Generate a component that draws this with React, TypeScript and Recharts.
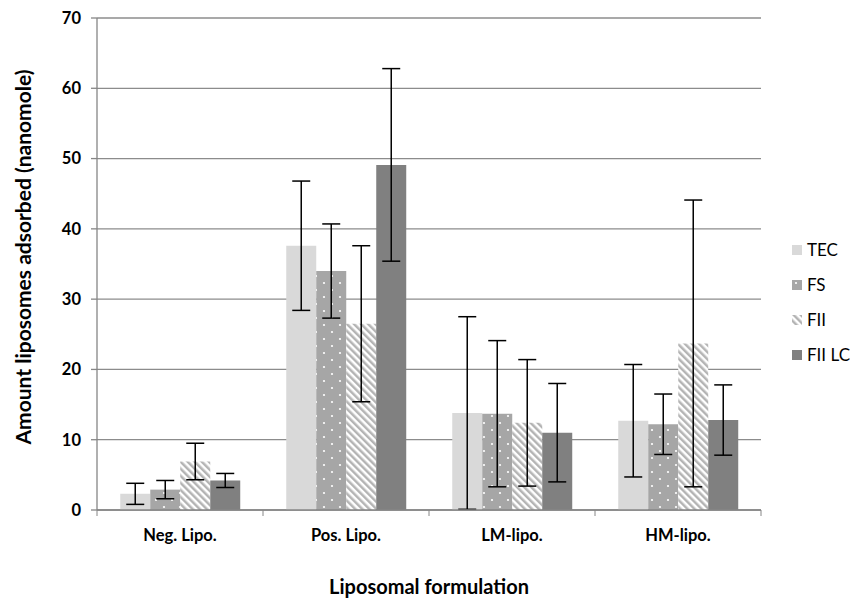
import {
  Bar,
  BarChart,
  CartesianGrid,
  ErrorBar,
  XAxis,
  YAxis,
} from "recharts";

const categories = ["Neg. Lipo.", "Pos. Lipo.", "LM-lipo.", "HM-lipo."];
const tec = [2.3, 37.6, 13.8, 12.7];
const tecErr = [1.5, 9.2, 13.7, 8.0];
const fs = [2.9, 34.0, 13.7, 12.2];
const fsErr = [1.3, 6.7, 10.4, 4.3];
const fii = [6.9, 26.5, 12.4, 23.7];
const fiiErr = [2.6, 11.1, 9.0, 20.4];
const fiiLc = [4.2, 49.1, 11.0, 12.8];
const fiiLcErr = [1.0, 13.7, 7.0, 5.0];
const yTicks = [0, 10, 20, 30, 40, 50, 60, 70];

const data = categories.map((name, i) => ({
  name,
  tec: tec[i],
  tecErr: tecErr[i],
  fs: fs[i],
  fsErr: fsErr[i],
  fii: fii[i],
  fiiErr: fiiErr[i],
  fiiLc: fiiLc[i],
  fiiLcErr: fiiLcErr[i],
}));

const series = [
  { key: "tec", label: "TEC", fill: "#d9d9d9" },
  { key: "fs", label: "FS", fill: "url(#dots)" },
  { key: "fii", label: "FII", fill: "url(#stripes)" },
  { key: "fiiLc", label: "FII LC", fill: "#808080" },
];

const FONT = "Lato, 'DejaVu Sans', sans-serif";
const BAND = 166;

function CategoryTick(props: any) {
  const { x, y, payload, index } = props;
  const left = x - BAND / 2;
  return (
    <g>
      <line x1={left} y1={y - 8} x2={left} y2={y - 2} stroke="#868686" />
      {index === categories.length - 1 && (
        <line x1={left + BAND} y1={y - 8} x2={left + BAND} y2={y - 2} stroke="#868686" />
      )}
      <text
        x={x}
        y={y + 23}
        textAnchor="middle"
        fontFamily={FONT}
        fontWeight="bold"
        fontSize={16.5}
        fill="#000"
      >
        {payload.value}
      </text>
    </g>
  );
}

function YLabel(props: any) {
  const { viewBox } = props;
  const cx = 22;
  const cy = viewBox.y + viewBox.height / 2 - 7;
  return (
    <text
      x={cx}
      y={cy}
      transform={`rotate(-90, ${cx}, ${cy})`}
      textAnchor="middle"
      dominantBaseline="central"
      fontFamily={FONT}
      fontWeight="bold"
      fontSize={21}
      fill="#000"
    >
      Amount liposomes adsorbed (nanomole)
    </text>
  );
}

function App() {
  return (
    <div style={{ position: "absolute", left: 0, top: 0, background: "#fff" }}>
      <BarChart
        width={850}
        height={604}
        data={data}
        margin={{ top: 18, right: 89, left: 0, bottom: 0 }}
        barCategoryGap="14%"
        barGap={0}
      >
        <defs>
          <pattern id="dots" width="16" height="14" patternUnits="userSpaceOnUse">
            <rect width="16" height="14" fill="#a6a6a6" />
            <circle cx="4" cy="3" r="1.1" fill="#fff" />
            <circle cx="12" cy="10" r="1.1" fill="#fff" />
          </pattern>
          <pattern
            id="stripes"
            width="5"
            height="5"
            patternUnits="userSpaceOnUse"
            patternTransform="rotate(-45)"
          >
            <rect width="5" height="5" fill="#fff" />
            <rect width="2.5" height="5" fill="#b4b4b4" />
          </pattern>
        </defs>
        <CartesianGrid vertical={false} stroke="#8c8c8c" strokeWidth={1.3} />
        <XAxis
          dataKey="name"
          height={94}
          stroke="#868686"
          strokeWidth={1.3}
          tickLine={false}
          tick={<CategoryTick />}
          interval={0}
          label={{
            value: "Liposomal formulation",
            position: "insideBottom",
            offset: 10,
            fontFamily: FONT,
            fontWeight: "bold",
            fontSize: 20,
            fill: "#000",
          }}
        />
        <YAxis
          width={97}
          domain={[0, 70]}
          ticks={yTicks}
          stroke="#868686"
          strokeWidth={1.3}
          tickSize={6}
          tickMargin={10}
          tick={{ fontFamily: FONT, fontWeight: "bold", fontSize: 16.5, fill: "#000" }}
          label={<YLabel />}
        />
        {series.map((s) => (
          <Bar
            key={s.key}
            dataKey={s.key}
            name={s.label}
            fill={s.fill}
            isAnimationActive={false}
          >
            <ErrorBar
              dataKey={`${s.key}Err`}
              width={9}
              stroke="#000"
              strokeWidth={1.5}
            />
          </Bar>
        ))}
      </BarChart>
      <div
        style={{
          position: "absolute",
          left: 792,
          top: 232,
          fontFamily: FONT,
          fontSize: 17,
          color: "#000",
        }}
      >
        {series.map((s) => (
          <div
            key={s.key}
            style={{ display: "flex", alignItems: "center", height: 35 }}
          >
            <svg width={10} height={10} style={{ marginRight: 5 }}>
              <rect width={10} height={10} fill={s.fill} />
            </svg>
            {s.label}
          </div>
        ))}
      </div>
    </div>
  );
}

export default App;
